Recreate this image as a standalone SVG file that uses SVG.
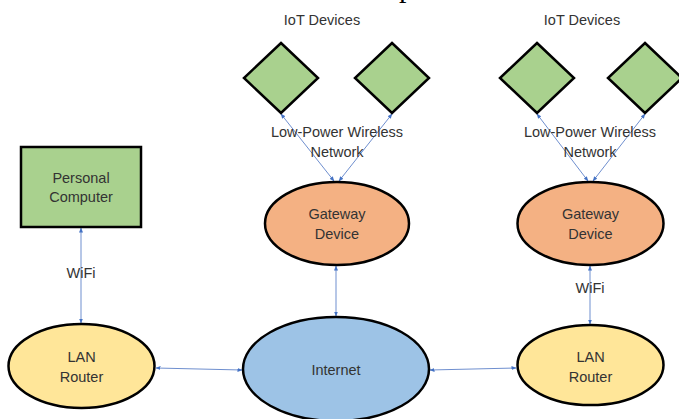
<svg xmlns="http://www.w3.org/2000/svg" width="679" height="419" viewBox="0 0 679 419">
<defs>
<marker id="ah" viewBox="0 0 10 10" refX="9" refY="5" markerWidth="5" markerHeight="5" orient="auto-start-reverse">
<path d="M0,1 L10,5 L0,9 z" fill="#4472C4"/>
</marker>
<style>
.n{stroke:#000;stroke-width:2.5}
.g{fill:#A9D18E}
.o{fill:#F4B183}
.b{fill:#9DC3E6}
.y{fill:#FFE699}
.t{font-family:"Liberation Sans","Open Sans",sans-serif;font-size:14.5px;fill:#333;text-anchor:middle}
.c{stroke:#6F8FCF;stroke-width:1;fill:none;marker-start:url(#ah);marker-end:url(#ah)}
</style>
</defs>
<rect width="679" height="419" fill="#fff"/>
<text x="399" y="-3" font-family="Liberation Serif,serif" font-size="30" fill="#000">p</text>
<g id="connectors">
<line class="c" x1="81" y1="228" x2="81" y2="323"/>
<line class="c" x1="156" y1="368" x2="242" y2="370"/>
<line class="c" x1="430" y1="370" x2="516" y2="368"/>
<line class="c" x1="336" y1="266" x2="336" y2="316"/>
<line class="c" x1="590" y1="266" x2="590" y2="324"/>
<line class="c" x1="281" y1="114" x2="334" y2="181"/>
<line class="c" x1="392" y1="114" x2="339" y2="181"/>
<line class="c" x1="537" y1="114" x2="588" y2="181"/>
<line class="c" x1="645" y1="114" x2="593" y2="181"/>
</g>
<g id="labels">
<text class="t" x="81" y="278">WiFi</text>
<text class="t" x="590" y="293">WiFi</text>
<text class="t" x="337" y="137">Low-Power Wireless</text>
<text class="t" x="337" y="157">Network</text>
<text class="t" x="590" y="137">Low-Power Wireless</text>
<text class="t" x="590" y="157">Network</text>
<text class="t" x="322" y="25">IoT Devices</text>
<text class="t" x="582" y="25">IoT Devices</text>
</g>
<g id="pc">
<rect class="n g" x="21" y="147" width="120" height="80"/>
<text class="t" x="81" y="183">Personal</text>
<text class="t" x="81" y="202">Computer</text>
</g>
<g id="iot1"><polygon class="n g" points="281,43 318,78 281,113 244,78"/></g>
<g id="iot2"><polygon class="n g" points="392,43 429,78 392,113 355,78"/></g>
<g id="iot3"><polygon class="n g" points="537,43 574,78 537,113 500,78"/></g>
<g id="iot4"><polygon class="n g" points="645,43 682,78 645,113 608,78"/></g>
<g id="gateway1">
<ellipse class="n o" cx="337" cy="223.5" rx="72" ry="41.5"/>
<text class="t" x="337" y="219">Gateway</text>
<text class="t" x="337" y="239">Device</text>
</g>
<g id="gateway2">
<ellipse class="n o" cx="590.5" cy="223.5" rx="73" ry="41.5"/>
<text class="t" x="590.5" y="219">Gateway</text>
<text class="t" x="590.5" y="239">Device</text>
</g>
<g id="router1">
<ellipse class="n y" cx="81.5" cy="366" rx="73" ry="42"/>
<text class="t" x="81.5" y="362">LAN</text>
<text class="t" x="81.5" y="382">Router</text>
</g>
<g id="internet">
<ellipse class="n b" cx="336" cy="369" rx="93" ry="52"/>
<text class="t" x="336" y="375">Internet</text>
</g>
<g id="router2">
<ellipse class="n y" cx="590.5" cy="365" rx="73" ry="40"/>
<text class="t" x="590.5" y="362">LAN</text>
<text class="t" x="590.5" y="382">Router</text>
</g>
</svg>
